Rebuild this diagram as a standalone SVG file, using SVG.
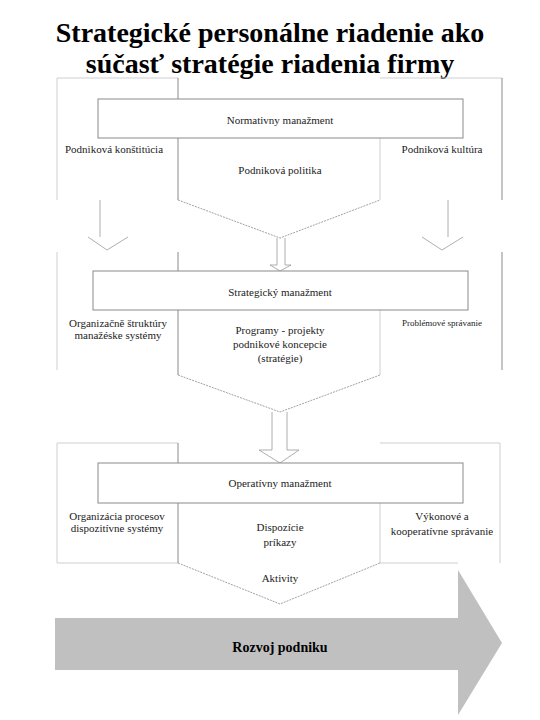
<svg xmlns="http://www.w3.org/2000/svg" width="540" height="720" viewBox="0 0 540 720">
<style>
text{font-family:'Liberation Serif','Times New Roman','DejaVu Serif','Noto Serif',serif}
.t{font-size:11px;fill:#222;text-anchor:middle}
.title{font-size:28px;font-weight:bold;fill:#000;text-anchor:middle}
.box{fill:#fff;stroke:#8a8a8a;stroke-width:1}
.frame{fill:none;stroke:#cfcfcf;stroke-width:1}
.div{fill:none;stroke:#8a8a8a;stroke-width:1}
.divl{fill:none;stroke:#d0d0d0;stroke-width:1}
.fun{fill:none;stroke:#8a8a8a;stroke-width:0.8;stroke-dasharray:2,1}
.arr{fill:none;stroke:#999;stroke-width:0.8}
</style>
<rect width="540" height="720" fill="#fff"/>
<text class="title" x="270" y="42">Strategické personálne riadenie ako</text>
<text class="title" x="270" y="73">súčasť stratégie riadenia firmy</text>

<g id="frames">
<polyline class="frame" points="57,200 57,78 178,78"/>
<polyline class="div" points="178,78 178,99"/>
<polyline class="frame" points="380,78 502,78"/>
<polyline class="div" points="502,78 502,200"/>
<line class="frame" x1="57" y1="252" x2="57" y2="370"/>
<line class="div" x1="178" y1="252" x2="178" y2="271"/>
<line class="div" x1="502" y1="252" x2="502" y2="370"/>
<polyline class="frame" points="57,563 57,443 178,443"/>
<line class="div" x1="178" y1="443" x2="178" y2="463"/>
<polyline class="frame" points="380,443 500,443 500,563"/>
<line class="frame" x1="57" y1="563" x2="178" y2="563"/>
<line class="frame" x1="380" y1="563" x2="458" y2="563"/>
</g>

<g id="connectors">
<line class="div" x1="178" y1="138" x2="178" y2="200"/>
<line class="divl" x1="380" y1="138" x2="380" y2="200"/>
<polyline class="fun" points="178,200 280,238 380,200"/>
<line class="div" x1="178" y1="310" x2="178" y2="375"/>
<line class="divl" x1="380" y1="310" x2="380" y2="375"/>
<polyline class="fun" points="178,375 280,412 380,375"/>
<line class="div" x1="178" y1="503" x2="178" y2="563"/>
<line class="divl" x1="380" y1="503" x2="380" y2="563"/>
<polyline class="fun" points="178,563 280,604 380,563"/>
<polyline class="arr" points="277,238 277,265 270,265 280,271 291,265 285,265 285,238"/>
<polyline class="arr" points="272,412 272,450 259,450 280,463 299,450 287,450 287,412"/>
<polyline class="arr" points="100,200 100,237"/>
<polyline class="arr" points="88,237 107,250 128,237"/>
<polyline class="arr" points="448,200 448,237"/>
<polyline class="arr" points="422,237 442,250 463,237"/>
</g>

<g id="normativny">
<rect class="box" x="98" y="99" width="365" height="39"/>
<text class="t" x="280" y="124">Normativny manažment</text>
</g>
<g id="konstitucia"><text class="t" x="114" y="153">Podniková konštitúcia</text></g>
<g id="kultura"><text class="t" x="442" y="153">Podniková kultúra</text></g>
<g id="politika"><text class="t" x="280" y="174">Podniková politika</text></g>

<g id="strategicky">
<rect class="box" x="93" y="271" width="375" height="39"/>
<text class="t" x="280" y="296">Strategický manažment</text>
</g>
<g id="struktury">
<text class="t" x="118" y="327">Organizačně štruktúry</text>
<text class="t" x="118" y="339">manažéske systémy</text>
</g>
<g id="programy">
<text class="t" x="280" y="334">Programy - projekty</text>
<text class="t" x="280" y="348">podnikové koncepcie</text>
<text class="t" x="280" y="362">(stratégie)</text>
</g>
<g id="problemove"><text class="t" x="442" y="326" style="font-size:9px">Problémové správanie</text></g>

<g id="operativny">
<rect class="box" x="98" y="463" width="365" height="40"/>
<text class="t" x="280" y="487">Operatívny manažment</text>
</g>
<g id="procesy">
<text class="t" x="117" y="520">Organizácia procesov</text>
<text class="t" x="117" y="532">dispozitívne systémy</text>
</g>
<g id="dispozicie">
<text class="t" x="280" y="531">Dispozície</text>
<text class="t" x="280" y="546">príkazy</text>
</g>
<g id="vykonove">
<text class="t" x="442" y="520">Výkonové a</text>
<text class="t" x="442" y="535">kooperatívne správanie</text>
</g>
<g id="aktivity"><text class="t" x="280" y="582">Aktivity</text></g>

<g id="rozvoj">
<polygon points="55,618 458,618 458,570 502,643 458,715 458,670 55,670" fill="#c0c0c0" stroke="none"/>
<text class="t" x="280" y="652" style="font-size:14px;font-weight:bold;fill:#000">Rozvoj podniku</text>
</g>
</svg>
